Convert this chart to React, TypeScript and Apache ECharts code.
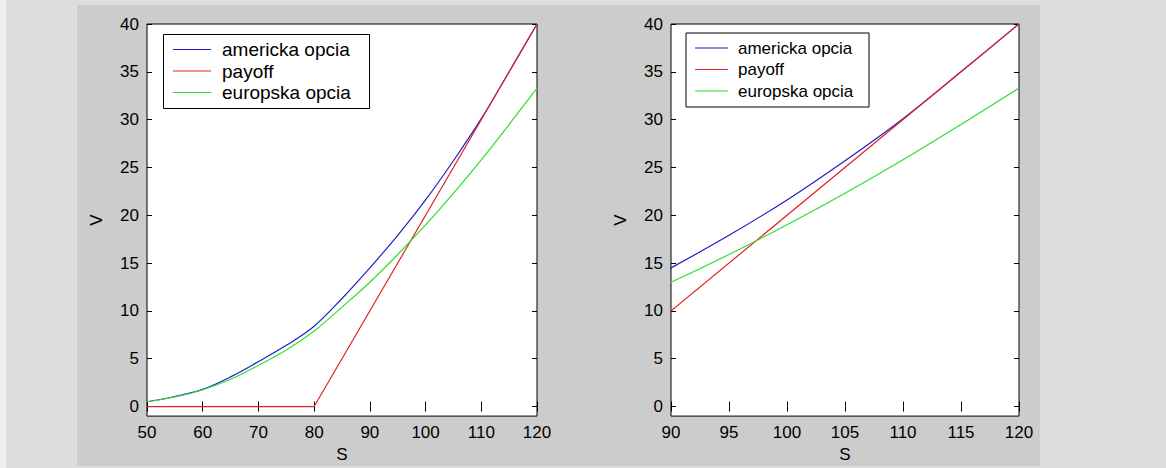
import React, { useEffect, useRef } from "react";
import * as echarts from "echarts";

// ---- data ----
const S = [50, 55, 60, 65, 70, 75, 80, 85, 90, 95, 100, 105, 110, 115, 120];
const americka = [0.5, 1.05, 1.8, 3.1, 4.7, 6.4, 8.4, 11.3, 14.5, 17.9, 21.6, 25.7, 30.1, 35, 40];
const europska = [0.5, 1.0, 1.75, 2.85, 4.3, 5.9, 7.9, 10.4, 13.0, 15.9, 19.0, 22.3, 25.8, 29.5, 33.3];
const payoffS = [50, 80, 120];
const payoffV = [0, 0, 40];
const seriesNames = ["americka opcia", "payoff", "europska opcia"];
const yTicks = [0, 5, 10, 15, 20, 25, 30, 35, 40];
const xName = "S";
const yName = "V";

const COLORS = ["#1f1fc4", "#e02424", "#2fe02f"];
const FONT = "Liberation Sans, Arial, sans-serif";

function pairs(xs: number[], ys: number[]) {
  return xs.map((x, i) => [x, ys[i]]);
}

function legendGraphic(
  bx: number, by: number, bw: number, bh: number,
  lx1: number, lx2: number, tx: number, rows: number[], fs: number
) {
  const els: any[] = [
    {
      type: "rect",
      shape: { x: bx, y: by, width: bw, height: bh },
      style: { fill: "#fff", stroke: "#000", lineWidth: 1 },
      z: 100,
    },
  ];
  seriesNames.forEach((n, i) => {
    els.push({
      type: "line",
      shape: { x1: lx1, y1: rows[i], x2: lx2, y2: rows[i] },
      style: { stroke: COLORS[i], lineWidth: 1.2 },
      z: 101,
    });
    els.push({
      type: "text",
      x: tx,
      y: rows[i],
      style: {
        text: n,
        fontSize: fs,
        fontFamily: FONT,
        fill: "#000",
        align: "left",
        verticalAlign: "middle",
      },
      z: 101,
    });
  });
  return els;
}

export default function App() {
  const ref = useRef<HTMLDivElement>(null);
  useEffect(() => {
    if (!ref.current) return;
    const chart = echarts.init(ref.current, undefined, { renderer: "svg" });

    const labelStyle = { color: "#000", fontSize: 17, fontFamily: FONT };
    const tick = { show: true, inside: true, length: 5, lineStyle: { color: "#000", width: 1 } };

    const xAx = (grid: number, min: number, interval: number, pos: string, main: boolean) => ({
      gridIndex: grid,
      type: "value",
      min,
      max: 120,
      interval,
      position: pos,
      name: main ? xName : "",
      nameLocation: "middle",
      nameGap: 29,
      nameTextStyle: labelStyle,
      axisLine: { show: false },
      axisTick: tick,
      axisLabel: main ? { ...labelStyle, margin: 8 } : { show: false },
      splitLine: { show: false },
    });
    const yAx = (grid: number, pos: string, main: boolean) => ({
      gridIndex: grid,
      type: "value",
      min: -1,
      max: 40,
      position: pos,
      name: main ? yName : "",
      nameLocation: "middle",
      nameGap: 42,
      nameRotate: 90,
      nameTextStyle: labelStyle,
      axisLine: { show: false },
      axisTick: { ...tick, customValues: yTicks },
      axisLabel: main ? { ...labelStyle, margin: 8, customValues: yTicks } : { show: false, customValues: yTicks },
      splitLine: { show: false },
    });

    const mkSeries = (xi: number) => [
      { name: seriesNames[0], data: pairs(S, americka), smooth: 0.35, color: COLORS[0] },
      { name: seriesNames[1], data: pairs(payoffS, payoffV), smooth: false, color: COLORS[1] },
      { name: seriesNames[2], data: pairs(S, europska), smooth: 0.35, color: COLORS[2] },
    ].map((s) => ({
      type: "line",
      name: s.name,
      xAxisIndex: xi,
      yAxisIndex: xi,
      data: s.data,
      smooth: s.smooth,
      symbol: "none",
      showSymbol: false,
      clip: true,
      lineStyle: { color: s.color, width: 1.2 },
      itemStyle: { color: s.color },
      emphasis: { disabled: true },
    }));

    const gridBase = {
      top: 24,
      height: 393,
      show: true,
      backgroundColor: "#fff",
      borderColor: "#000",
      borderWidth: 1,
      containLabel: false,
    };

    chart.setOption({
      animation: false,
      backgroundColor: "#dddddd",
      grid: [
        { ...gridBase, left: 147, width: 390 },
        { ...gridBase, left: 671, width: 348 },
      ],
      xAxis: [
        xAx(0, 50, 10, "bottom", true),
        xAx(0, 50, 10, "top", false),
        xAx(1, 90, 5, "bottom", true),
        xAx(1, 90, 5, "top", false),
      ],
      yAxis: [
        yAx(0, "left", true),
        yAx(0, "right", false),
        yAx(1, "left", true),
        yAx(1, "right", false),
      ],
      series: [...mkSeries(0), ...mkSeries(2)],
      graphic: [
        { type: "rect", shape: { x: 0, y: 0, width: 6, height: 468 }, style: { fill: "#eeeeee" }, z: -10, silent: true },
        { type: "rect", shape: { x: 77, y: 5, width: 963, height: 461 }, style: { fill: "#cccccc" }, z: -10, silent: true },
        ...legendGraphic(163.5, 34.5, 206, 74, 173, 211, 222, [49.5, 71, 92.5], 19),
        ...legendGraphic(686, 33, 183, 74, 695, 728, 738, [48, 69.5, 91], 17),
      ],
    });
    return () => chart.dispose();
  }, []);

  return (
    <div
      ref={ref}
      style={{ position: "fixed", left: 0, top: 0, width: 1166, height: 468 }}
    />
  );
}
